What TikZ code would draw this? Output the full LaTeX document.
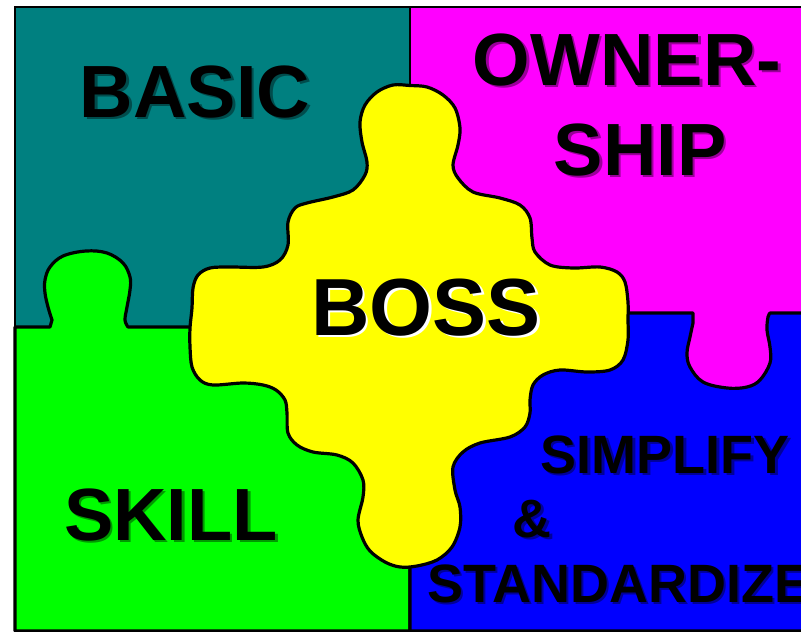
\documentclass[tikz,border=0pt]{standalone}
\usepackage{fontspec}
\setmainfont{Liberation Sans}
\usepackage{xcolor}
\definecolor{basicteal}{HTML}{008080}
\definecolor{ownmagenta}{HTML}{FF00FF}
\definecolor{skillgreen}{HTML}{00FF00}
\definecolor{simpblue}{HTML}{0000FF}
\definecolor{bossyellow}{HTML}{FFFF00}
\tikzset{piece/.style = {draw=black, line width=3.2pt, line join=round}}
\tikzset{word/.style = {font=\fontsize{74}{74}\selectfont\bfseries, inner sep=0pt, anchor=base}}
\tikzset{wordshadow/.style = {word, text=black, text opacity=0.4}}

\begin{document}
\begin{tikzpicture}[x=1pt, y=-1pt]
		\clip (0,0) rectangle (801,632);
		\fill[white] (0,0) rectangle (801,632);
		
		\filldraw[fill=basicteal, line width=2.2pt] (15,7) rectangle (410,327);
		\filldraw[fill=ownmagenta, line width=2.2pt] (410,7) rectangle (820,400);
		\filldraw[fill=skillgreen, piece] (15,327) -- (50,327)
			-- plot[smooth, tension=0.6] coordinates {(52,320) (48,307) (45,293) (45,280) (50,267) (63,256) (86,251) (107,253) (123,263) (130,277) (130,290) (127,307) (125,320) (128,327)}
			-- (410,327) -- (410,631) -- (15,631) -- cycle;
		\filldraw[fill=simpblue, piece] (410,313) -- (693,313)
			-- plot[smooth, tension=0.6] coordinates {(693,323) (690,337) (687,353) (690,367) (703,382) (727,388) (747,387) (760,380) (770,363) (770,347) (767,330) (768,317) (770,313)}
			-- (820,313) -- (820,631) -- (410,631) -- cycle;
		
		\filldraw[fill=bossyellow, piece] plot[smooth cycle, tension=0.55] coordinates {
			(393,85) (410,85.5) (427,87) (443,95) (455,108) (460,128) (458,145) (453,165) (458,178) (473,192) (500,198) (520,205) (530,218) (532,238) (535,252) (550,265) (573,268) (600,267) (617,272) (625,282) (628,302) (628,320) (628,340) (623,360) (610,370) (587,372) (560,370) (543,375) (533,385) (530,400) (530,413) (525,427) (510,437) (480,443) (463,452) (453,467) (455,490) (460,507) (460,527) (452,547) (437,560) (417,566) (400,567) (385,562) (370,551) (362,537) (358,520) (363,497) (363,480) (353,463) (337,455) (313,452) (297,445) (288,433) (287,413) (285,400) (276,390) (263,385) (243,383) (213,385) (200,380) (192,367) (190,347) (190,328) (192,308) (193,288) (198,275) (210,268) (230,267) (263,267) (280,260) (288,245) (288,222) (295,208) (307,203) (333,197) (353,190) (365,175) (367,162) (362,142) (360,122) (365,105) (377,92)};
		
		\node[wordshadow] (basic-sh) at (197.5,119.5) {BASIC};
		\node[word] (basic) at (195,117) {BASIC};
		\node[wordshadow] (owner-sh) at (629.5,87.5) {OWNER-};
		\node[word] (owner) at (627,85) {OWNER-};
		\node[wordshadow] (ship-sh) at (642.5,177.5) {SHIP};
		\node[word] (ship) at (640,175) {SHIP};
		\node[word, font=\fontsize{81}{81}\selectfont\bfseries, text=white] (boss-sh) at (428.5,337.5) {BOSS};
		\node[word, font=\fontsize{81}{81}\selectfont\bfseries] (boss) at (426,335) {BOSS};
		\node[wordshadow] (skill-sh) at (173.5,542.5) {SKILL};
		\node[word] (skill) at (171,540) {SKILL};
		\node[wordshadow, font=\fontsize{54}{54}\selectfont\bfseries] (simplify-sh) at (667.5,475.5) {SIMPLIFY};
		\node[word, font=\fontsize{54}{54}\selectfont\bfseries] (simplify) at (665,473) {SIMPLIFY};
		\node[wordshadow, font=\fontsize{54}{54}\selectfont\bfseries] (and-sh) at (534.5,539.5) {\&};
		\node[word, font=\fontsize{54}{54}\selectfont\bfseries] (and) at (532,537) {\&};
		\node[wordshadow, font=\fontsize{54}{54}\selectfont\bfseries, anchor=base west] (standardize-sh) at (429.5,604.5) {STANDARDIZE};
		\node[word, font=\fontsize{54}{54}\selectfont\bfseries, anchor=base west] (standardize) at (427,602) {STANDARDIZE};
\end{tikzpicture}
\end{document}
